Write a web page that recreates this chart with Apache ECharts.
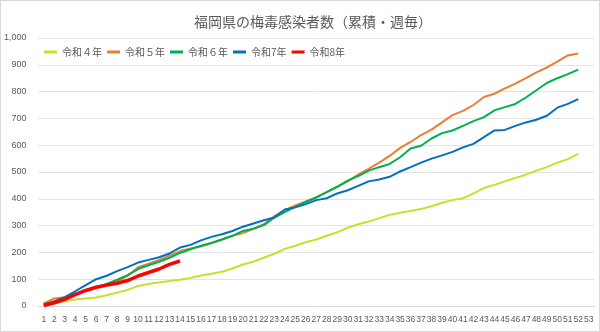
<!DOCTYPE html>
<html>
<head>
<meta charset="utf-8">
<script src="https://cdn.jsdelivr.net/npm/echarts@6/dist/echarts.min.js"></script>
<style>
  html, body { margin: 0; padding: 0; background: #fff; }
  #chart { width: 600px; height: 332px; box-sizing: border-box; border: 1px solid #d9d9d9; }
</style>
</head>
<body>
<div id="chart"></div>
<script>
// 週 (1〜53)
const weeks = ['1','2','3','4','5','6','7','8','9','10','11','12','13','14','15','16','17','18','19','20',
  '21','22','23','24','25','26','27','28','29','30','31','32','33','34','35','36','37','38','39','40',
  '41','42','43','44','45','46','47','48','49','50','51','52','53']

const seriesNames = ['令和４年', '令和５年', '令和６年', '令和7年', '令和8年']

// 累積感染者数
const r4 = [3, 10, 18, 24, 28, 32, 40, 50, 60, 75, 82, 88, 93, 98, 105, 114, 120, 128, 140, 155,
  165, 180, 195, 213, 225, 238, 248, 262, 275, 292, 305, 315, 328, 340, 348, 355, 362, 372, 385, 395,
  402, 420, 440, 452, 465, 478, 490, 505, 518, 535, 548, 568]
const r5 = [10, 28, 33, 45, 58, 70, 80, 92, 112, 145, 158, 172, 188, 205, 215, 222, 235, 248, 262, 272,
  288, 305, 335, 358, 375, 390, 405, 425, 445, 465, 490, 512, 535, 560, 590, 612, 638, 658, 685, 712,
  728, 750, 780, 792, 812, 830, 850, 872, 890, 912, 935, 942]
const r6 = [5, 15, 28, 45, 58, 70, 82, 98, 115, 138, 152, 165, 180, 198, 212, 225, 235, 248, 262, 280,
  288, 302, 330, 350, 370, 388, 405, 425, 445, 468, 485, 505, 518, 530, 555, 588, 598, 625, 645, 655,
  672, 690, 705, 730, 742, 754, 778, 805, 832, 850, 865, 882]
const r7 = [5, 18, 33, 55, 78, 100, 113, 130, 145, 162, 172, 182, 196, 218, 228, 245, 258, 268, 280, 296,
  308, 320, 330, 360, 368, 380, 395, 402, 420, 432, 448, 465, 472, 482, 502, 518, 535, 550, 562, 575,
  592, 605, 630, 655, 657, 672, 685, 695, 710, 740, 754, 772]
const r8 = [2, 12, 25, 42, 58, 70, 78, 85, 95, 112, 125, 138, 155, 168]

const colors = ['#c9e02a', '#ed7d31', '#00b050', '#0070c0', '#ff0000']

const chart = echarts.init(document.getElementById('chart'))

function makeLine(name, data, color, width) {
    return {
        name: name,
        type: 'line',
        data: data,
        symbol: 'none',
        smooth: false,
        lineStyle: { color: color, width: width },
        itemStyle: { color: color }
    }
}

chart.setOption({
    animation: false,
    textStyle: { fontFamily: '"Noto Sans CJK JP", "Noto Sans", sans-serif' },
    title: {
        text: '福岡県の梅毒感染者数（累積・週毎）',
        left: 188,
        top: 9,
        textStyle: { fontSize: 14, fontWeight: 'normal', color: '#595959' }
    },
    legend: {
        left: 38,
        top: 41,
        icon: 'rect',
        itemWidth: 13,
        itemHeight: 3,
        itemGap: 5,
        textStyle: { fontSize: 10, color: '#595959' },
        data: seriesNames
    },
    grid: { left: 35, right: 5, top: 37, bottom: 25, containLabel: false },
    xAxis: {
        type: 'category',
        data: weeks,
        boundaryGap: true,
        axisLine: { lineStyle: { color: '#d9d9d9' } },
        axisTick: { show: false },
        axisLabel: { interval: 0, fontSize: 8.5, color: '#595959', margin: 9, hideOverlap: false,
            fontFamily: 'Liberation Sans, sans-serif' }
    },
    yAxis: {
        type: 'value',
        min: 0,
        max: 1000,
        interval: 100,
        axisLine: { show: false },
        axisTick: { show: false },
        splitLine: { lineStyle: { color: '#e3e3e3' } },
        axisLabel: {
            fontSize: 9, color: '#595959', margin: 12,
            fontFamily: 'Liberation Sans, sans-serif',
            formatter: v => v.toLocaleString('en-US')
        }
    },
    series: [
        makeLine(seriesNames[0], r4, colors[0], 2),
        makeLine(seriesNames[1], r5, colors[1], 2),
        makeLine(seriesNames[2], r6, colors[2], 2),
        makeLine(seriesNames[3], r7, colors[3], 2),
        makeLine(seriesNames[4], r8, colors[4], 3.5)
    ]
})
</script>
</body>
</html>
